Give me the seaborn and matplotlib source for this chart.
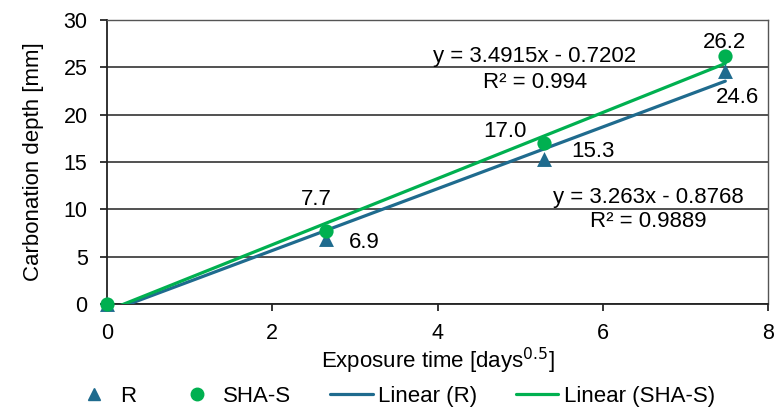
import numpy as np
import pandas as pd
import matplotlib
matplotlib.use("Agg")
import matplotlib.pyplot as plt
import seaborn as sns
from matplotlib.lines import Line2D

# Exposure time as square root of days (0, 7, 28, 56 days)
exposure = [0.0, 2.6458, 5.2915, 7.4833]
depth_r = [0.0, 6.9, 15.3, 24.6]
depth_sha = [0.0, 7.7, 17.0, 26.2]
series_names = ["R", "SHA-S"]

# Linear trend coefficients (slope, intercept) and R²
fit_r = (3.263, -0.8768, 0.9889)
fit_sha = (3.4915, -0.7202, 0.994)

col_r = "#1F6B8E"
col_sha = "#00B050"
ink = "#000000"

sns.set_theme(style="white")
plt.rcParams["font.family"] = ["Liberation Sans", "DejaVu Sans"]
plt.rcParams["text.color"] = ink
plt.rcParams["axes.labelcolor"] = ink
plt.rcParams["xtick.color"] = ink
plt.rcParams["ytick.color"] = ink

fig = plt.figure(figsize=(7.74, 4.08), dpi=100)
ax = fig.add_axes([107 / 774, 1 - 304 / 408, 661 / 774, 284 / 408])

df = pd.DataFrame({
    "x": exposure * 2,
    "y": depth_r + depth_sha,
    "series": [series_names[0]] * len(exposure) + [series_names[1]] * len(exposure),
})

# Trend lines
xs = np.array([exposure[0], exposure[-1]])
trend = pd.DataFrame({
    "x": np.concatenate([xs, xs]),
    "y": np.concatenate([fit_r[0] * xs + fit_r[1], fit_sha[0] * xs + fit_sha[1]]),
    "series": ["Linear (R)"] * 2 + ["Linear (SHA-S)"] * 2,
})
sns.lineplot(data=trend, x="x", y="y", hue="series",
             palette={"Linear (R)": col_r, "Linear (SHA-S)": col_sha},
             linewidth=2.3, legend=False, ax=ax, zorder=3)

sns.scatterplot(data=df[df.series == "R"], x="x", y="y", color=col_r, marker="^",
                s=115, linewidth=0, legend=False, ax=ax, zorder=4, clip_on=False)
sns.scatterplot(data=df[df.series == "SHA-S"], x="x", y="y", color=col_sha, marker="o",
                s=105, linewidth=0, legend=False, ax=ax, zorder=5, clip_on=False)

ax.set_xlim(0, 8)
ax.set_ylim(0, 30)
ax.set_xticks([0, 2, 4, 6, 8])
ax.set_yticks([0, 5, 10, 15, 20, 25, 30])
ax.yaxis.grid(True, color="#222222", linewidth=1.1)
ax.xaxis.grid(False)
ax.set_axisbelow(True)

for side in ["left", "bottom"]:
    ax.spines[side].set_color("#222222")
    ax.spines[side].set_linewidth(1.3)
for side in ["right", "top"]:
    ax.spines[side].set_color("#555555")
    ax.spines[side].set_linewidth(1.0)

ax.tick_params(axis="both", which="major", labelsize=15.5, direction="out",
               length=5, width=1.1)
ax.tick_params(axis="x", bottom=True, pad=9)
ax.tick_params(axis="y", left=True, pad=9)

ax.set_xlabel("Exposure time [days$^{0.5}$]", fontsize=16, labelpad=1)
ax.set_ylabel("Carbonation depth [mm]", fontsize=16, labelpad=14)

# Point value labels (baseline positions offset from each point)
fs = 16
ax.text(exposure[1] - 0.11, depth_sha[1] + 2.76, f"{depth_sha[1]:.1f}", ha="center", va="baseline", fontsize=fs)
ax.text(exposure[1] + 0.47, depth_r[1] - 0.98, f"{depth_r[1]:.1f}", ha="center", va="baseline", fontsize=fs)
ax.text(exposure[2] - 0.48, depth_sha[2] + 0.64, f"{depth_sha[2]:.1f}", ha="center", va="baseline", fontsize=fs)
ax.text(exposure[2] + 0.59, depth_r[2] + 0.23, f"{depth_r[2]:.1f}", ha="center", va="baseline", fontsize=fs)
ax.text(exposure[3] - 0.01, depth_sha[3] + 0.84, f"{depth_sha[3]:.1f}", ha="center", va="baseline", fontsize=fs)
ax.text(exposure[3] + 0.15, depth_r[3] - 3.37, f"{depth_r[3]:.1f}", ha="center", va="baseline", fontsize=fs)

# Trend equations
ax.text(5.18, 25.56, f"y = {fit_sha[0]}x - {abs(fit_sha[1])}", ha="center", va="baseline", fontsize=fs)
ax.text(5.18, 22.82, f"R² = {fit_sha[2]}", ha="center", va="baseline", fontsize=fs)
ax.text(6.55, 10.67, f"y = {fit_r[0]}x - {abs(fit_r[1])}", ha="center", va="baseline", fontsize=fs)
ax.text(6.55, 8.13, f"R² = {fit_r[2]}", ha="center", va="baseline", fontsize=fs)

handles = [
    Line2D([], [], marker="^", color=col_r, linestyle="none", markersize=9),
    Line2D([], [], marker="o", color=col_sha, linestyle="none", markersize=9),
    Line2D([], [], color=col_r, linewidth=2.3),
    Line2D([], [], color=col_sha, linewidth=2.3),
]
labels = ["R", "SHA-S", "Linear (R)", "Linear (SHA-S)"]
fig.legend(handles, labels, loc="center", bbox_to_anchor=(0.509, 0.028), ncol=4,
           frameon=False, fontsize=16, handlelength=1.9, columnspacing=1.75,
           handletextpad=0.25, borderaxespad=0, borderpad=0)

fig.savefig("out.png", dpi=100)
